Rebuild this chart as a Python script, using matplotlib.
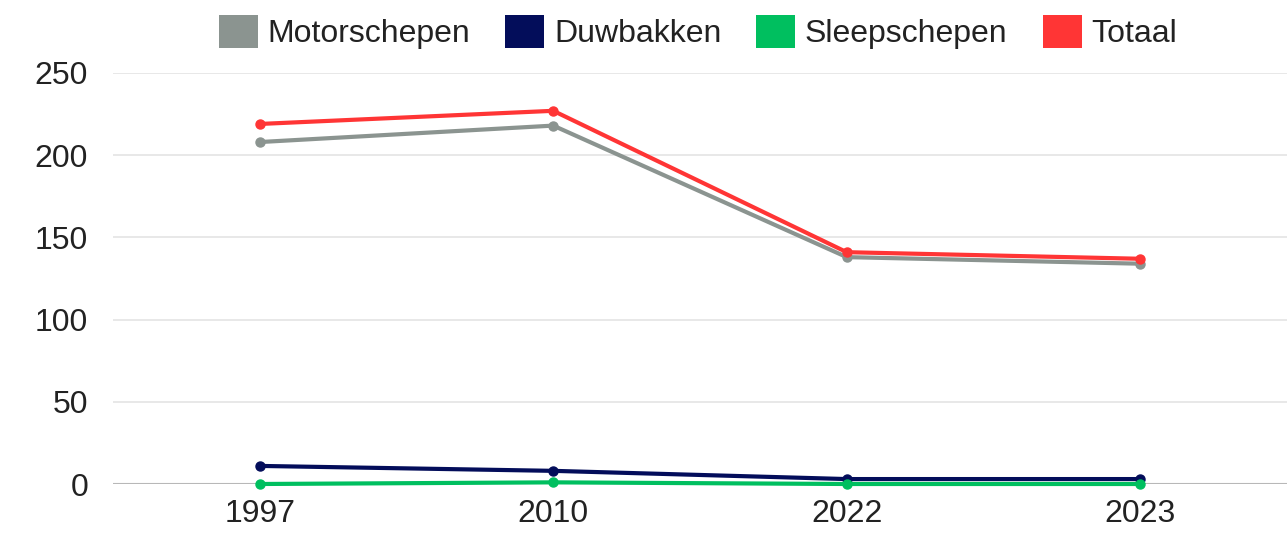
import matplotlib
matplotlib.use("Agg")
import matplotlib.pyplot as plt
import matplotlib.patches as mpatches

# data
jaren = ["1997", "2010", "2022", "2023"]
motorschepen = [208, 218, 138, 134]
duwbakken = [11, 8, 3, 3]
sleepschepen = [0, 1, 0, 0]
totaal = [219, 227, 141, 137]

series = [
    ("Motorschepen", motorschepen, "#8b9490"),
    ("Duwbakken", duwbakken, "#030d5a"),
    ("Sleepschepen", sleepschepen, "#00bf5f"),
    ("Totaal", totaal, "#ff3535"),
]

plt.rcParams["font.family"] = ["Liberation Sans", "DejaVu Sans"]

fig = plt.figure(figsize=(12.87, 5.33), dpi=100)
ax = fig.add_axes([113 / 1287, 49 / 533, 1174 / 1287, 411 / 533])

x = list(range(len(jaren)))
for naam, waarden, kleur in series:
    ax.plot(x, waarden, color=kleur, lw=3, marker="o", ms=6.5,
            solid_capstyle="round", clip_on=False, zorder=3)

ax.set_xlim(-0.5, 3.5)
ax.set_ylim(0, 250)
ax.set_yticks([0, 50, 100, 150, 200, 250])
ax.set_xticks(x)
ax.set_xticklabels(jaren)

ax.grid(axis="y", color="#e6e6e6", lw=1.3)
ax.axhline(0, color="#b8b8b8", lw=1.5, zorder=2)
for s in ax.spines.values():
    s.set_visible(False)
ax.tick_params(axis="both", length=0, labelsize=23, colors="#222222")
ax.tick_params(axis="y", pad=18)
ax.tick_params(axis="x", pad=11)

handles = [mpatches.Patch(facecolor=k, edgecolor="none", label=n) for n, w, k in series]
fig.legend(handles=handles, loc="center", bbox_to_anchor=(698 / 1287, 1 - 32 / 533),
           ncol=4, frameon=False, fontsize=23, handlelength=1.22, handleheight=1.22,
           handletextpad=0.3, columnspacing=1.1, labelcolor="#222222",
           borderpad=0, borderaxespad=0)

fig.savefig("out.png", dpi=100)
